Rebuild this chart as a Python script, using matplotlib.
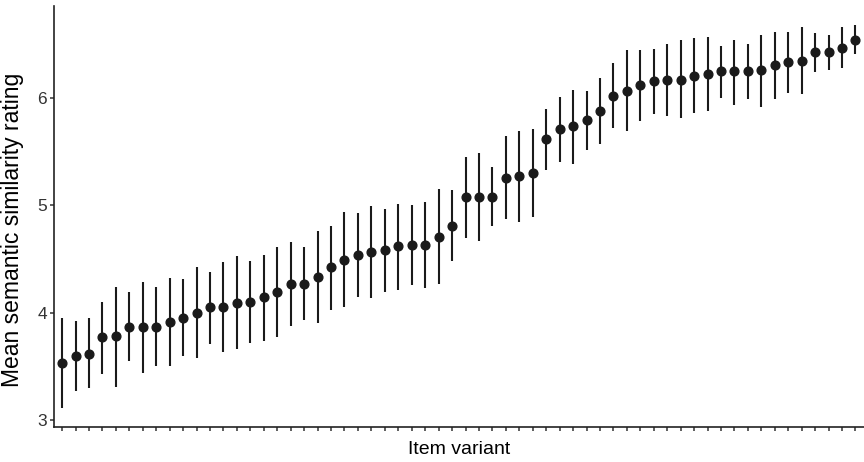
import numpy as np
import matplotlib
matplotlib.use("Agg")
import matplotlib.pyplot as plt

# Mittelwerte und Fehlerbalken
means = [3.53, 3.60, 3.62, 3.77, 3.78, 3.87, 3.87, 3.87, 3.91, 3.95,
         4.00, 4.05, 4.05, 4.09, 4.10, 4.15, 4.19, 4.27, 4.27, 4.33,
         4.43, 4.49, 4.54, 4.57, 4.58, 4.62, 4.63, 4.63, 4.71, 4.81,
         5.08, 5.08, 5.08, 5.26, 5.27, 5.30, 5.62, 5.71, 5.74, 5.80,
         5.88, 6.02, 6.07, 6.12, 6.16, 6.17, 6.17, 6.21, 6.22, 6.25,
         6.25, 6.25, 6.26, 6.31, 6.34, 6.35, 6.43, 6.43, 6.47, 6.54]
upper = [3.95, 3.92, 3.95, 4.10, 4.24, 4.19, 4.29, 4.24, 4.32, 4.31,
         4.43, 4.38, 4.47, 4.53, 4.48, 4.54, 4.61, 4.66, 4.61, 4.76,
         4.81, 4.94, 4.93, 4.99, 4.97, 5.01, 5.00, 5.03, 5.15, 5.14,
         5.45, 5.49, 5.36, 5.65, 5.69, 5.71, 5.90, 6.01, 6.08, 6.07,
         6.19, 6.33, 6.45, 6.45, 6.46, 6.50, 6.54, 6.56, 6.57, 6.49,
         6.54, 6.50, 6.59, 6.62, 6.62, 6.66, 6.61, 6.59, 6.66, 6.68]
lower = [3.11, 3.27, 3.30, 3.43, 3.31, 3.55, 3.44, 3.50, 3.50, 3.60,
         3.58, 3.71, 3.63, 3.66, 3.72, 3.74, 3.77, 3.88, 3.93, 3.90,
         4.03, 4.05, 4.15, 4.14, 4.19, 4.21, 4.26, 4.23, 4.27, 4.48,
         4.70, 4.67, 4.81, 4.87, 4.85, 4.89, 5.33, 5.40, 5.39, 5.52,
         5.57, 5.72, 5.69, 5.79, 5.85, 5.83, 5.81, 5.86, 5.88, 6.00,
         5.94, 5.99, 5.92, 5.99, 6.05, 6.04, 6.24, 6.26, 6.28, 6.41]
yticks = [3, 4, 5, 6]

plt.rcParams['font.family'] = ['Liberation Sans', 'DejaVu Sans']

x = np.arange(1, len(means) + 1)

fig = plt.figure(figsize=(8.64, 4.62), dpi=100)
ax = fig.add_axes([0.0625, 0.075, 0.937, 0.912])

# Fehlerbalken und Punkte
ax.vlines(x, lower, upper, color='#1a1a1a', linewidth=1.5)
ax.plot(x, means, 'o', color='#1a1a1a', markersize=6.3)

# Achsen im ggplot-classic-Stil
ax.set_xlim(0.4, len(means) + 0.6)
ax.set_ylim(2.932, 6.858)
ax.set_xticks(x)
ax.set_xticklabels([])
ax.set_yticks(yticks)
ax.set_yticklabels([str(t) for t in yticks])
for side in ['top', 'right']:
    ax.spines[side].set_visible(False)
for side in ['left', 'bottom']:
    ax.spines[side].set_linewidth(1.2)
    ax.spines[side].set_color('#222222')
ax.tick_params(axis='both', length=3, width=1.1, color='#333333',
               labelsize=12.5, labelcolor='#333333', pad=2)

ax.set_xlabel('Item variant', fontsize=14, labelpad=5)
ax.set_ylabel('Mean semantic similarity rating', fontsize=16.5)
ax.yaxis.set_label_coords(-0.037, 0.468)

fig.savefig('out.png', dpi=100)
